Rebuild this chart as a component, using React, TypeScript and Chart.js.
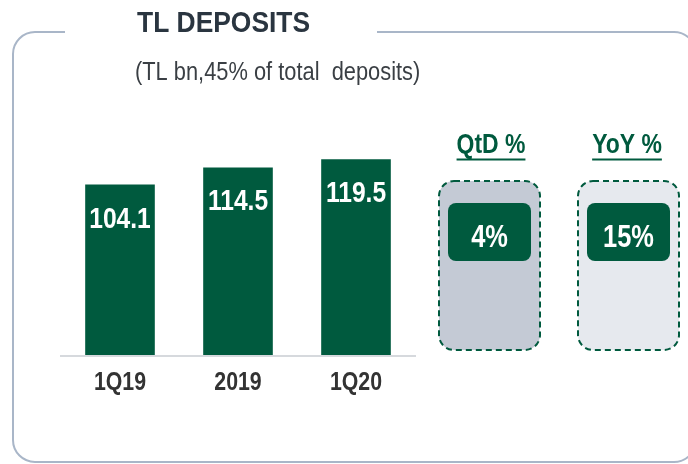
import React, { useEffect, useRef } from 'react';
import { Chart, registerables } from 'chart.js';

Chart.register(...registerables);

const categories = ['1Q19', '2019', '1Q20'];
const deposits = [104.1, 114.5, 119.5];
const titleText = 'TL DEPOSITS';
const subtitleText = '(TL bn,45% of total  deposits)';
const changeLabels = ['QtD %', 'YoY %'];
const changeValues = ['4%', '15%'];

const GREEN = '#005a3e';
const SANS = '"Liberation Sans", Arial, sans-serif';
const SQUEEZE = 0.82;

function narrowText(
  ctx: CanvasRenderingContext2D,
  text: string,
  x: number,
  y: number,
  font: string,
  color: string,
  align: CanvasTextAlign,
  squeeze: number = SQUEEZE
) {
  ctx.save();
  ctx.font = font;
  ctx.fillStyle = color;
  ctx.textAlign = align;
  ctx.textBaseline = 'alphabetic';
  ctx.translate(x, y);
  ctx.scale(squeeze, 1);
  ctx.fillText(text, 0, 0);
  ctx.restore();
}

const decorPlugin = {
  id: 'decor',
  beforeDraw(chart: any) {
    const ctx = chart.ctx as CanvasRenderingContext2D;
    ctx.save();
    // outer frame
    ctx.strokeStyle = '#a9b6c8';
    ctx.lineWidth = 2;
    const L = 13, T = 32, R = 696, B = 462, r = 22;
    ctx.beginPath();
    ctx.moveTo(65, T);
    ctx.lineTo(L + r, T);
    ctx.arcTo(L, T, L, T + r, r);
    ctx.lineTo(L, B - r);
    ctx.arcTo(L, B, L + r, B, r);
    ctx.lineTo(R - r, B);
    ctx.arcTo(R, B, R, B - r, r);
    ctx.lineTo(R, T + r);
    ctx.arcTo(R, T, R - r, T, r);
    ctx.lineTo(377, T);
    ctx.stroke();

    // title & subtitle
    narrowText(ctx, titleText, 137, 32, `bold 30px ${SANS}`, '#2a3540', 'left', 0.88);
    narrowText(ctx, subtitleText, 135, 80, `26px ${SANS}`, '#3a3f44', 'left', 0.84);

    // change boxes
    const boxes = [
      { x: 439, fill: '#c4cad5', cx: 491 },
      { x: 578, fill: '#e6e9ee', cx: 627 },
    ];
    boxes.forEach((b, i) => {
      ctx.fillStyle = b.fill;
      ctx.beginPath();
      ctx.roundRect(b.x, 181, 101, 169, 15);
      ctx.fill();
      ctx.setLineDash([6, 4]);
      ctx.strokeStyle = GREEN;
      ctx.lineWidth = 2;
      ctx.stroke();
      ctx.setLineDash([]);
      ctx.fillStyle = GREEN;
      ctx.beginPath();
      ctx.roundRect(b.x + 9, 203, 83, 58, 8);
      ctx.fill();
      narrowText(ctx, changeValues[i], b.x + 50.5, 247, `bold 31px ${SANS}`, '#ffffff', 'center');
      // heading
      const hFont = `bold 28px ${SANS}`;
      narrowText(ctx, changeLabels[i], b.cx, 153, hFont, GREEN, 'center');
      ctx.font = hFont;
      const w = ctx.measureText(changeLabels[i]).width * SQUEEZE;
      ctx.fillStyle = GREEN;
      ctx.fillRect(b.cx - w / 2, 158.5, w, 2);
    });
    ctx.restore();
  },
  afterDatasetsDraw(chart: any) {
    const ctx = chart.ctx as CanvasRenderingContext2D;
    const meta = chart.getDatasetMeta(0);
    meta.data.forEach((bar: any, i: number) => {
      narrowText(ctx, deposits[i].toFixed(1), bar.x, bar.y + 43, `bold 30px ${SANS}`, '#ffffff', 'center');
    });
    const xs = chart.scales.x;
    categories.forEach((c, i) => {
      narrowText(ctx, c, xs.getPixelForValue(i), 390, `bold 26px ${SANS}`, '#333333', 'center');
    });
  },
};

export default function App() {
  const ref = useRef<HTMLCanvasElement | null>(null);
  useEffect(() => {
    if (!ref.current) return;
    const chart = new Chart(ref.current, {
      type: 'bar',
      data: {
        labels: categories,
        datasets: [
          {
            data: deposits,
            backgroundColor: GREEN,
            borderWidth: 0,
            categoryPercentage: 1,
            barPercentage: 0.59,
          },
        ],
      },
      options: {
        responsive: false,
        animation: false,
        layout: { padding: { left: 61, right: 273, top: 109, bottom: 0 } },
        plugins: { legend: { display: false }, tooltip: { enabled: false }, title: { display: false } },
        scales: {
          x: {
            grid: { display: false, drawTicks: false },
            border: { display: true, color: '#d6d9dd', width: 2, z: 1 },
            ticks: { display: false },
            afterFit: (s: any) => {
              s.height = 108;
            },
          },
          y: { display: false, min: 0, max: 150 },
        },
      },
      plugins: [decorPlugin],
    });
    return () => chart.destroy();
  }, []);
  return (
    <div style={{ position: 'absolute', left: 0, top: 0, width: 688, height: 464, background: '#fff' }}>
      <canvas ref={ref} width={688} height={464} />
    </div>
  );
}
